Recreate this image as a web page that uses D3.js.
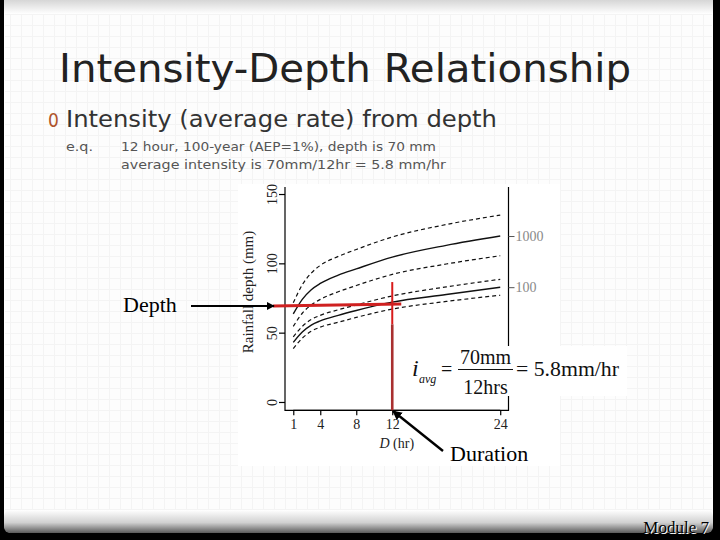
<!DOCTYPE html>
<html lang="en">
<head>
  <meta charset="UTF-8">
  <title>Intensity-Depth Relationship</title>
  <style>
    body { margin: 0; background: #000; }
    svg { display: block; }
  </style>
</head>
<body>
<div id="chart-container"></div>
<script src="https://d3js.org/d3.v7.min.js"></script>
<script>

// durations (hr) and depths (mm)
const durations = [1, 2, 3, 4, 6, 8, 12, 18, 24];
const depth1000 = [63.5, 74, 81, 85.5, 91.5, 96, 104.5, 113, 119.7];
const depth1000Upper = [71.5, 84.5, 93, 98.5, 105, 110, 119, 128, 134.8];
const depth1000Lower = [54.5, 64, 70, 74, 79.5, 84, 92, 99.5, 105.5];
const depth100 = [43, 50.5, 55.5, 58.5, 62.5, 66, 72, 77.5, 82.8];
const depth100Upper = [47, 54.5, 59.5, 62.5, 66.5, 70, 76.5, 83, 88.5];
const depth100Lower = [38.5, 46, 51, 54, 57.5, 61, 67, 72.5, 77];

const xTicks = [1, 4, 8, 12, 24];
const yTicks = [0, 50, 100, 150];
const returnLabels = ["1000", "100"];
const returnValues = [119.7, 82.8];

const exampleDuration = 12;
const exampleDepth = 70;

const width = 720, height = 540;

const svg = d3.select("#chart-container")
  .append("svg")
  .attr("width", width)
  .attr("height", height);

// slide frame
const defs = svg.append("defs");
const shade = defs.append("linearGradient")
  .attr("id", "bottomShade").attr("x1", 0).attr("y1", 0).attr("x2", 0).attr("y2", 1);
shade.append("stop").attr("offset", "0%").attr("stop-color", "#ffffff");
shade.append("stop").attr("offset", "55%").attr("stop-color", "#d0d0d0");
shade.append("stop").attr("offset", "100%").attr("stop-color", "#5a5a5a");
const topShade = defs.append("linearGradient")
  .attr("id", "topShade").attr("x1", 0).attr("y1", 0).attr("x2", 0).attr("y2", 1);
topShade.append("stop").attr("offset", "0%").attr("stop-color", "#d6d6d6");
topShade.append("stop").attr("offset", "100%").attr("stop-color", "#ffffff");

svg.append("rect").attr("x", 0).attr("y", 0).attr("width", width).attr("height", height).attr("fill", "#000");
svg.append("rect").attr("x", 4).attr("y", -10).attr("width", 709).attr("height", 543)
  .attr("rx", 8).attr("fill", "#fdfdfd");
svg.append("rect").attr("x", 4).attr("y", 0).attr("width", 709).attr("height", 14).attr("fill", "url(#topShade)");

// faint grid on the slide
const grid = svg.append("g").attr("stroke", "#f4f4f4").attr("stroke-width", 1);
d3.range(10, 712, 11).forEach(gx => {
  grid.append("line").attr("x1", gx + 0.5).attr("x2", gx + 0.5).attr("y1", 14).attr("y2", 512);
});
d3.range(14, 512, 11).forEach(gy => {
  grid.append("line").attr("x1", 5).attr("x2", 712).attr("y1", gy + 0.5).attr("y2", gy + 0.5);
});
svg.append("rect").attr("x", 4).attr("y", 510).attr("width", 709).attr("height", 23)
  .attr("rx", 6).attr("fill", "url(#bottomShade)");

// title and bullets
svg.append("text")
  .attr("x", 59).attr("y", 82)
  .attr("font-family", "DejaVu Sans")
  .attr("font-size", 39)
  .attr("textLength", 572).attr("lengthAdjust", "spacingAndGlyphs")
  .attr("fill", "#222")
  .text("Intensity-Depth Relationship");

svg.append("text")
  .attr("x", 48).attr("y", 127)
  .attr("font-family", "DejaVu Sans Condensed, DejaVu Sans")
  .attr("font-size", 19)
  .attr("fill", "#b0552c")
  .text("0");

svg.append("text")
  .attr("x", 66).attr("y", 127)
  .attr("font-family", "DejaVu Sans")
  .attr("font-size", 23)
  .attr("textLength", 431).attr("lengthAdjust", "spacingAndGlyphs")
  .attr("fill", "#333")
  .text("Intensity (average rate) from depth");

const small = svg.append("g")
  .attr("font-family", "DejaVu Sans")
  .attr("font-size", 13)
  .attr("fill", "#555");
small.append("text").attr("x", 66).attr("y", 151)
  .attr("textLength", 27).attr("lengthAdjust", "spacingAndGlyphs").text("e.q.");
small.append("text").attr("x", 121).attr("y", 151)
  .attr("textLength", 315).attr("lengthAdjust", "spacingAndGlyphs")
  .text("12 hour, 100-year (AEP=1%), depth is 70 mm");
small.append("text").attr("x", 121).attr("y", 169)
  .attr("textLength", 325).attr("lengthAdjust", "spacingAndGlyphs")
  .text("average intensity is 70mm/12hr = 5.8 mm/hr");

// the embedded plot picture
svg.append("rect").attr("x", 238).attr("y", 184).attr("width", 322).attr("height", 282).attr("fill", "#fff");

const x = d3.scaleLinear().domain([0.08, 24.92]).range([285, 508.5]);
const y = d3.scaleLinear().domain([-6, 156]).range([410.3, 185.7]);

const plot = svg.append("g");

// box (top is cropped in the picture)
plot.append("path")
  .attr("d", `M${x.range()[0]},187V${y.range()[0]}H${x.range()[1]}V187`)
  .attr("fill", "none").attr("stroke", "#000").attr("stroke-width", 1.2);

// x axis
const xAxis = plot.append("g")
  .attr("transform", `translate(0,${y.range()[0]})`)
  .call(d3.axisBottom(x).tickValues(xTicks).tickSize(5).tickPadding(4).tickFormat(d3.format("d")));
xAxis.select(".domain").attr("d", `M${x(1)},0H${x(24)}`).attr("stroke-width", 1.2);
xAxis.selectAll(".tick line").attr("stroke-width", 1.2);
xAxis.selectAll("text").attr("font-family", "Liberation Serif").attr("font-size", 14).attr("fill", "#222");

// y axis with rotated labels
const yAxis = plot.append("g")
  .attr("transform", `translate(${x.range()[0]},0)`)
  .call(d3.axisLeft(y).tickValues(yTicks).tickSize(6).tickFormat(d3.format("d")));
yAxis.select(".domain").remove();
yAxis.selectAll(".tick line").attr("stroke-width", 1.2);
yAxis.selectAll(".tick text")
  .attr("x", null).attr("dy", null)
  .attr("transform", "translate(-13,0) rotate(-90)")
  .attr("text-anchor", "middle")
  .attr("dominant-baseline", "central")
  .attr("font-family", "Liberation Serif").attr("font-size", 14).attr("fill", "#222");

// right axis with return period labels
const rAxis = plot.append("g")
  .attr("transform", `translate(${x.range()[1]},0)`)
  .call(d3.axisRight(y).tickValues(returnValues).tickSize(6).tickPadding(1)
    .tickFormat((d, i) => returnLabels[i]));
rAxis.select(".domain").remove();
rAxis.selectAll(".tick line").attr("stroke", "#555");
rAxis.selectAll("text").attr("font-family", "Liberation Serif").attr("font-size", 14).attr("fill", "#8a8a8a");

plot.append("text")
  .attr("transform", `translate(253,${(y(0) + y(150)) / 2 - 6}) rotate(-90)`)
  .attr("text-anchor", "middle")
  .attr("font-family", "Liberation Serif").attr("font-size", 15).attr("fill", "#222")
  .text("Rainfall depth (mm)");

const xl = plot.append("text")
  .attr("x", (x.range()[0] + x.range()[1]) / 2).attr("y", 448)
  .attr("text-anchor", "middle")
  .attr("font-family", "Liberation Serif").attr("font-size", 14).attr("fill", "#222");
xl.append("tspan").attr("font-style", "italic").text("D");
xl.append("tspan").text(" (hr)");

// curves
const line = d3.line()
  .x((d, i) => x(durations[i]))
  .y(d => y(d))
  .curve(d3.curveMonotoneX);

const series = [
  { values: depth1000Upper, dash: "4,3" },
  { values: depth1000, dash: null },
  { values: depth1000Lower, dash: "4,3" },
  { values: depth100Upper, dash: "4,3" },
  { values: depth100, dash: null },
  { values: depth100Lower, dash: "4,3" }
];

plot.selectAll(".curve")
  .data(series)
  .enter().append("path")
  .attr("class", "curve")
  .attr("d", d => line(d.values))
  .attr("fill", "none")
  .attr("stroke", "#111")
  .attr("stroke-width", d => d.dash ? 1.2 : 1.4)
  .attr("stroke-dasharray", d => d.dash);

// red reading lines
plot.append("line")
  .attr("x1", x(exampleDuration)).attr("x2", x(exampleDuration))
  .attr("y1", y(86.5)).attr("y2", y(56))
  .attr("stroke", "#d81b1b").attr("stroke-width", 2);
plot.append("line")
  .attr("x1", x(exampleDuration)).attr("x2", x(exampleDuration))
  .attr("y1", y(56)).attr("y2", y.range()[0])
  .attr("stroke", "#a93030").attr("stroke-width", 2.6);
plot.append("line")
  .attr("x1", 273).attr("x2", x(13))
  .attr("y1", y(exampleDepth) + 1).attr("y2", y(exampleDepth) - 1)
  .attr("stroke", "#cf2020").attr("stroke-width", 3);

// equation
svg.append("rect").attr("x", 405).attr("y", 346).attr("width", 222).attr("height", 50).attr("fill", "#fff");
const eq = svg.append("g").attr("font-family", "Liberation Serif").attr("fill", "#111");
eq.append("text").attr("x", 412).attr("y", 376).attr("font-size", 24).attr("font-style", "italic").text("i");
eq.append("text").attr("x", 419).attr("y", 383).attr("font-size", 12).attr("font-style", "italic").text("avg");
eq.append("text").attr("x", 441).attr("y", 376).attr("font-size", 20).text("=");
eq.append("line").attr("x1", 458).attr("x2", 513).attr("y1", 369.5).attr("y2", 369.5)
  .attr("stroke", "#111").attr("stroke-width", 1.2);
eq.append("text").attr("x", 485.5).attr("y", 364).attr("text-anchor", "middle").attr("font-size", 20).text("70mm");
eq.append("text").attr("x", 485.5).attr("y", 393.5).attr("text-anchor", "middle").attr("font-size", 20).text("12hrs");
eq.append("text").attr("x", 516).attr("y", 376).attr("font-size", 20)
  .attr("textLength", 103).attr("lengthAdjust", "spacingAndGlyphs").text("= 5.8mm/hr");

// annotation arrows
defs.append("marker")
  .attr("id", "head").attr("viewBox", "0 0 10 10").attr("refX", 9).attr("refY", 5)
  .attr("markerWidth", 4).attr("markerHeight", 4).attr("orient", "auto")
  .append("path").attr("d", "M0,0L10,5L0,10z").attr("fill", "#000");

svg.append("line")
  .attr("x1", 191).attr("y1", 306).attr("x2", 274).attr("y2", 306)
  .attr("stroke", "#000").attr("stroke-width", 2).attr("marker-end", "url(#head)");
svg.append("text").attr("x", 123).attr("y", 312)
  .attr("font-family", "Liberation Serif").attr("font-size", 22).attr("fill", "#000").text("Depth");

svg.append("line")
  .attr("x1", 443).attr("y1", 451).attr("x2", 393).attr("y2", 411)
  .attr("stroke", "#000").attr("stroke-width", 2.4).attr("marker-end", "url(#head)");
svg.append("text").attr("x", 450).attr("y", 461)
  .attr("font-family", "Liberation Serif").attr("font-size", 22).attr("fill", "#000").text("Duration");

// footer
svg.append("text").attr("x", 709).attr("y", 533).attr("text-anchor", "end")
  .attr("font-family", "Liberation Serif").attr("font-size", 17)
  .attr("fill", "#fff").attr("transform", "translate(1,1)").text("Module 7");
svg.append("text").attr("x", 709).attr("y", 533).attr("text-anchor", "end")
  .attr("font-family", "Liberation Serif").attr("font-size", 17)
  .attr("fill", "#000").text("Module 7");

</script>
</body>
</html>
